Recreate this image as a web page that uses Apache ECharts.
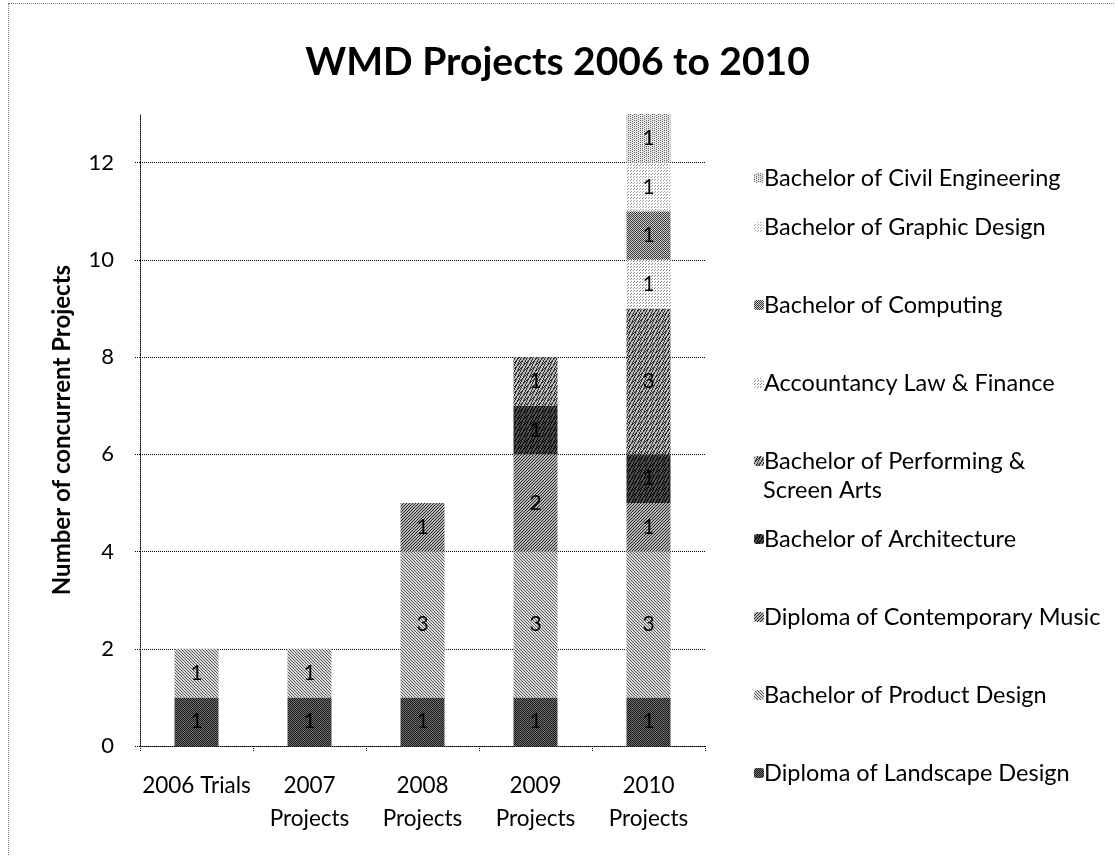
<!DOCTYPE html>
<html>
<head>
<meta charset="utf-8">
<script src="https://cdn.jsdelivr.net/npm/echarts@6/dist/echarts.min.js"></script>
<style>
  html, body { margin: 0; padding: 0; background: #fff; }
  #frame { position: absolute; left: 8px; top: 3px; width: 1120px; height: 870px; border: 1px dotted #777; box-sizing: border-box; }
  #chart { position: absolute; left: 0; top: 0; width: 1115px; height: 856px; }
</style>
</head>
<body>
<div id="frame"></div>
<div id="chart"></div>
<script>
// ---- data ----
const categories = ['2006 Trials', '2007\nProjects', '2008\nProjects', '2009\nProjects', '2010\nProjects'];
const yTicks = [0, 2, 4, 6, 8, 10, 12];
const seriesNames = [
  'Diploma of Landscape Design',
  'Bachelor of Product Design',
  'Diploma of Contemporary Music',
  'Bachelor of Architecture',
  'Bachelor of Performing & Screen Arts',
  'Accountancy Law & Finance',
  'Bachelor of Computing',
  'Bachelor of Graphic Design',
  'Bachelor of Civil Engineering'
];
const landscape   = [1, 1, 1, 1, 1];
const product     = [1, 1, 3, 3, 3];
const music       = [0, 0, 1, 2, 1];
const architecture= [0, 0, 0, 1, 1];
const performing  = [0, 0, 0, 1, 3];
const accountancy = [0, 0, 0, 0, 1];
const computing   = [0, 0, 0, 0, 1];
const graphic     = [0, 0, 0, 0, 1];
const civil       = [0, 0, 0, 0, 1];
const seriesValues = [landscape, product, music, architecture, performing, accountancy, computing, graphic, civil];

// ---- texture styles ----
function tilePoints(kind) {
  const pts = [];
  for (let y = 0; y < 6; y++) for (let x = 0; x < 6; x++) {
    let on = false;
    if (kind === 'check') on = (x + y) % 2 === 0;
    else if (kind === 'diag') on = (x - y + 6) % 3 === 0;
    else if (kind === 'anti') on = (x + y) % 3 === 0;
    else if (kind === 'wave') on = ((x + Math.floor(y / 2)) % 3 === 0) || ((x + y) % 6 === 0);
    else if (kind === 'sparse') on = (x % 3 === 0 && y % 3 === 0) || (x % 3 === 1 && y % 3 === 2);
    else if (kind === 'dots') on = (x + 2 * y) % 4 === 0;
    if (on) pts.push([x, y]);
  }
  return pts;
}
function makePattern(bg, fg, kind) {
  const c = document.createElement('canvas');
  c.width = 6; c.height = 6;
  const ctx = c.getContext('2d');
  ctx.fillStyle = bg; ctx.fillRect(0, 0, 6, 6);
  ctx.fillStyle = fg;
  tilePoints(kind).forEach(p => ctx.fillRect(p[0], p[1], 1, 1));
  return { image: c, repeat: 'repeat' };
}
const styles = [
  makePattern('#6e6e6e', '#1a1a1a', 'check'),   // landscape
  makePattern('#dadada', '#5a5a5a', 'diag'),    // product
  makePattern('#b4b4b4', '#2a2a2a', 'anti'),    // music
  makePattern('#4e4e4e', '#0a0a0a', 'wave'),    // architecture
  makePattern('#bcbcbc', '#333333', 'wave'),    // performing
  makePattern('#ffffff', '#8a8a8a', 'sparse'),  // accountancy
  makePattern('#cccccc', '#3a3a3a', 'check'),   // computing
  makePattern('#ffffff', '#9a9a9a', 'sparse'),  // graphic
  makePattern('#e6e6e6', '#666666', 'dots')     // civil
];

const FONT = 'Lato';
const series = seriesNames.map((name, i) => ({
  name: name,
  type: 'bar',
  stack: 'total',
  barWidth: 44,
  data: seriesValues[i].map(v => v === 0 ? null : v),
  itemStyle: { color: styles[i] },
  label: {
    show: true, position: 'inside', color: '#000', fontFamily: FONT, fontSize: 21,
    formatter: p => (p.value ? String(p.value) : '')
  },
  emphasis: { disabled: true }
}));

// one legend per item so the positions match the reference layout
const legendTops = [161, 210, 288, 366, 444, 522, 600, 678, 756];
const legendOrder = seriesNames.slice().reverse();
const legends = legendOrder.map((name, i) => ({
  show: true,
  data: [name],
  left: 749,
  top: legendTops[i],
  orient: 'vertical',
  itemWidth: 10, itemHeight: 10, itemGap: 6,
  selectedMode: false,
  textStyle: { fontFamily: FONT, fontSize: 23.5, color: '#000', padding: [0, 0, 0, -5] },
  formatter: n => (n === 'Bachelor of Performing & Screen Arts' ? 'Bachelor of Performing &' : n)
}));

const chart = echarts.init(document.getElementById('chart'), null, { renderer: 'canvas' });
chart.setOption({
  animation: false,
  backgroundColor: 'transparent',
  title: {
    text: 'WMD Projects 2006 to 2010',
    left: 'center', top: 38,
    textStyle: { fontFamily: FONT, fontWeight: 'bold', fontSize: 39, color: '#000' }
  },
  legend: legends,
  graphic: [{
    type: 'text', left: 763, top: 478,
    style: { text: 'Screen Arts', fontFamily: FONT, fontSize: 23.5, fill: '#000' }
  }],
  grid: { left: 140, right: 410, top: 114, bottom: 110, containLabel: false },
  xAxis: {
    type: 'category',
    data: categories,
    axisLine: { show: true, lineStyle: { color: '#000', type: 'dotted', width: 1 } },
    axisTick: { show: true, length: 5, alignWithLabel: false, lineStyle: { color: '#000', type: 'dotted' } },
    axisLabel: { fontFamily: FONT, fontSize: 22.5, color: '#000', margin: 23, lineHeight: 33, interval: 0 }
  },
  yAxis: {
    type: 'value',
    min: yTicks[0], max: 13, interval: 2,
    name: 'Number of concurrent Projects',
    nameLocation: 'middle', nameRotate: 90, nameGap: 66,
    nameTextStyle: { fontFamily: FONT, fontWeight: 'bold', fontSize: 24, color: '#000' },
    axisLine: { show: true, lineStyle: { color: '#000', type: 'dotted', width: 1 } },
    axisTick: { show: true, length: 5, lineStyle: { color: '#000', type: 'dotted' } },
    axisLabel: {
      fontFamily: FONT, fontSize: 22, color: '#000', margin: 26, showMaxLabel: false,
      formatter: v => (yTicks.indexOf(v) >= 0 ? String(v) : '')
    },
    splitLine: {
      show: true,
      lineStyle: { color: ['#000', '#000', '#000', '#000', '#000', '#000', '#000', 'rgba(0,0,0,0)'], type: 'dotted', width: 1 }
    }
  },
  series: series
});
</script>
</body>
</html>
